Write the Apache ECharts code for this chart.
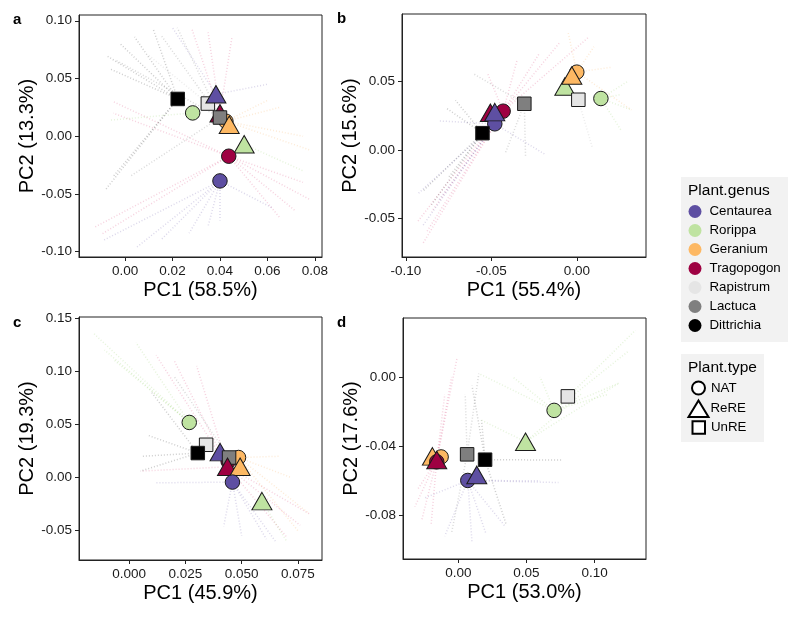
<!DOCTYPE html>
<html><head><meta charset="utf-8">
<script src="https://cdn.jsdelivr.net/npm/echarts@6/dist/echarts.min.js"></script>
<style>html,body{margin:0;padding:0;background:#fff}#c{width:800px;height:617px}</style>
</head><body><div id="c"></div>
<script>
// ---------- data ----------
const genera = ['Centaurea','Rorippa','Geranium','Tragopogon','Rapistrum','Lactuca','Dittrichia'];
const plantTypes = ['NAT','ReRE','UnRE'];
const panelLabels = ['a','b','c','d'];
const xTitles = ['PC1 (58.5%)','PC1 (55.4%)','PC1 (45.9%)','PC1 (53.0%)'];
const yTitles = ['PC2 (13.3%)','PC2 (15.6%)','PC2 (19.3%)','PC2 (17.6%)'];
const xRanges = [[-0.0194,0.083],[-0.1023,0.0405],[-0.0223,0.0857],[-0.0407,0.1378]];
const yRanges = [[-0.1046,0.105],[-0.078,0.0988],[-0.0776,0.151],[-0.1052,0.0341]];
const xTicks = [[0,0.02,0.04,0.06,0.08],[-0.10,-0.05,0],[0,0.025,0.05,0.075],[0,0.05,0.10]];
const yTicks = [[-0.10,-0.05,0,0.05,0.10],[-0.05,0,0.05],[-0.05,0,0.05,0.10,0.15],[-0.08,-0.04,0]];
const xDecimals = [2,2,3,2];
const yDecimals = [2,2,2,2];

// centroids: [genus, type, PC1, PC2] in drawing order
const pointsA = [
  ['Tragopogon','ReRE',0.040,0.0199],
  ['Geranium','NAT',0.0425,0.013],
  ['Lactuca','UnRE',0.040,0.0162],
  ['Geranium','ReRE',0.0439,0.0099],
  ['Rorippa','NAT',0.0285,0.0202],
  ['Rapistrum','UnRE',0.0349,0.0283],
  ['Centaurea','ReRE',0.0383,0.0363],
  ['Dittrichia','UnRE',0.0222,0.0323],
  ['Rorippa','ReRE',0.0502,-0.0069],
  ['Tragopogon','NAT',0.0437,-0.0173],
  ['Centaurea','NAT',0.040,-0.0387]
];
const pointsB = [
  ['Tragopogon','NAT',-0.0431,0.0281],
  ['Tragopogon','ReRE',-0.0506,0.027],
  ['Centaurea','NAT',-0.048,0.0189],
  ['Centaurea','ReRE',-0.048,0.0274],
  ['Dittrichia','UnRE',-0.0552,0.0121],
  ['Lactuca','UnRE',-0.0307,0.0335],
  ['Rorippa','ReRE',-0.007,0.046],
  ['Geranium','NAT',0.000,0.0565],
  ['Geranium','ReRE',-0.0029,0.0541],
  ['Rapistrum','UnRE',0.0009,0.0364],
  ['Rorippa','NAT',0.0141,0.0373]
];
const pointsC = [
  ['Tragopogon','NAT',0.044,0.015],
  ['Rorippa','NAT',0.0267,0.0518],
  ['Rapistrum','UnRE',0.0342,0.0308],
  ['Dittrichia','UnRE',0.0305,0.023],
  ['Centaurea','ReRE',0.0404,0.0239],
  ['Geranium','NAT',0.0486,0.0188],
  ['Lactuca','UnRE',0.0444,0.0188],
  ['Tragopogon','ReRE',0.0437,0.0101],
  ['Geranium','ReRE',0.0493,0.0101],
  ['Centaurea','NAT',0.0459,-0.0043],
  ['Rorippa','ReRE',0.059,-0.0222]
];
const pointsD = [
  ['Geranium','NAT',-0.0127,-0.0462],
  ['Geranium','ReRE',-0.0191,-0.0459],
  ['Tragopogon','NAT',-0.0159,-0.049],
  ['Tragopogon','ReRE',-0.0159,-0.048],
  ['Lactuca','UnRE',0.0064,-0.0447],
  ['Dittrichia','UnRE',0.0196,-0.0478],
  ['Centaurea','NAT',0.0069,-0.0598],
  ['Centaurea','ReRE',0.0135,-0.0566],
  ['Rorippa','ReRE',0.0493,-0.0374],
  ['Rorippa','NAT',0.0703,-0.0193],
  ['Rapistrum','UnRE',0.0804,-0.0112]
];

// faint dotted rays: [genus, type of origin centroid, PC1 end, PC2 end]
const raysA = [
  ['Dittrichia','UnRE',-0.008,0.070],['Dittrichia','UnRE',-0.002,0.080],['Dittrichia','UnRE',0.004,0.086],['Dittrichia','UnRE',0.012,0.092],['Dittrichia','UnRE',-0.006,0.058],
  ['Dittrichia','UnRE',-0.0085,-0.047],['Dittrichia','UnRE',-0.005,-0.035],
  ['Lactuca','UnRE',0.015,0.088],['Lactuca','UnRE',0.022,0.094],['Lactuca','UnRE',-0.004,0.066],['Lactuca','UnRE',0.002,-0.035],
  ['Tragopogon','NAT',-0.005,0.030],['Tragopogon','NAT',-0.005,0.020],['Tragopogon','NAT',-0.013,-0.079],['Tragopogon','NAT',-0.010,-0.085],
  ['Tragopogon','NAT',0.078,-0.055],['Tragopogon','NAT',0.072,-0.065],['Tragopogon','NAT',0.065,-0.070],['Tragopogon','NAT',0.075,-0.040],
  ['Tragopogon','ReRE',0.035,0.090],['Tragopogon','ReRE',0.045,0.085],['Tragopogon','ReRE',0.028,0.094],
  ['Centaurea','NAT',-0.009,-0.090],['Centaurea','NAT',0.005,-0.096],['Centaurea','NAT',0.015,-0.090],['Centaurea','NAT',0.027,-0.084],['Centaurea','NAT',0.035,-0.078],['Centaurea','NAT',0.040,-0.073],['Centaurea','NAT',0.062,-0.062],
  ['Centaurea','ReRE',0.020,0.094],['Centaurea','ReRE',0.060,0.045],
  ['Geranium','NAT',0.078,-0.012],['Geranium','NAT',0.075,0.000],['Geranium','NAT',0.065,0.025],['Geranium','NAT',0.060,0.031],
  ['Rorippa','ReRE',0.075,-0.030],['Rorippa','NAT',-0.006,0.014],['Rapistrum','UnRE',0.010,0.070]
];
const raysB = [
  ['Tragopogon','NAT',-0.090,-0.068],['Tragopogon','NAT',-0.093,-0.052],['Tragopogon','NAT',-0.088,-0.060],['Tragopogon','NAT',-0.085,-0.045],
  ['Tragopogon','NAT',-0.052,0.055],['Tragopogon','NAT',-0.035,0.065],['Tragopogon','NAT',-0.022,0.070],['Tragopogon','NAT',-0.010,0.078],['Tragopogon','NAT',0.007,0.082],
  ['Centaurea','NAT',-0.093,-0.032],['Centaurea','NAT',-0.081,-0.037],['Centaurea','NAT',-0.019,-0.003],['Centaurea','NAT',-0.081,0.021],['Centaurea','NAT',-0.090,-0.055],
  ['Dittrichia','UnRE',-0.085,-0.040],['Dittrichia','UnRE',-0.071,0.036],['Dittrichia','UnRE',-0.076,0.030],['Dittrichia','UnRE',-0.075,-0.020],['Dittrichia','UnRE',-0.090,-0.030],
  ['Lactuca','UnRE',-0.042,-0.003],['Lactuca','UnRE',-0.030,-0.005],['Lactuca','UnRE',-0.060,0.055],
  ['Geranium','NAT',0.020,0.060],['Geranium','NAT',0.010,0.075],['Geranium','NAT',-0.005,0.085],['Geranium','NAT',0.032,0.029],
  ['Rorippa','NAT',0.032,0.029],['Rorippa','NAT',0.026,0.014],['Rorippa','NAT',0.030,0.050],['Rorippa','NAT',0.025,0.040],
  ['Rapistrum','UnRE',0.009,0.002]
];
const raysC = [
  ['Rorippa','NAT',-0.016,0.136],['Rorippa','NAT',-0.011,0.120],['Rorippa','NAT',-0.007,0.111],['Rorippa','NAT',0.003,0.127],
  ['Tragopogon','ReRE',0.012,0.115],['Tragopogon','ReRE',0.030,0.105],['Tragopogon','ReRE',0.020,0.110],
  ['Tragopogon','ReRE',0.070,-0.056],['Tragopogon','ReRE',0.080,-0.034],['Tragopogon','ReRE',0.076,-0.045],['Tragopogon','ReRE',0.005,0.006],
  ['Centaurea','NAT',0.061,-0.058],['Centaurea','NAT',0.065,-0.060],['Centaurea','NAT',0.042,-0.046],['Centaurea','NAT',0.050,-0.055],['Centaurea','NAT',0.012,-0.005],
  ['Dittrichia','UnRE',0.008,0.040],['Dittrichia','UnRE',0.005,0.006],['Dittrichia','UnRE',0.006,0.020],['Dittrichia','UnRE',0.010,0.080],
  ['Geranium','NAT',0.080,-0.034],['Geranium','NAT',0.067,0.020],['Geranium','NAT',0.072,0.000],['Geranium','NAT',0.075,-0.050],
  ['Rorippa','ReRE',0.070,-0.060],['Lactuca','UnRE',0.020,0.095]
];
const raysD = [
  ['Tragopogon','ReRE',-0.001,0.011],['Tragopogon','ReRE',-0.005,0.000],['Tragopogon','ReRE',-0.010,-0.010],
  ['Tragopogon','ReRE',-0.027,-0.083],['Tragopogon','ReRE',-0.032,-0.075],['Tragopogon','ReRE',-0.030,-0.065],['Tragopogon','ReRE',-0.020,-0.085],
  ['Centaurea','NAT',-0.010,-0.092],['Centaurea','NAT',0.010,-0.096],['Centaurea','NAT',0.034,-0.086],['Centaurea','NAT',0.020,-0.090],['Centaurea','NAT',-0.025,-0.070],
  ['Centaurea','NAT',0.0735,-0.061],['Centaurea','NAT',0.060,-0.060],
  ['Dittrichia','UnRE',0.076,-0.048],['Dittrichia','UnRE',0.010,-0.005],['Dittrichia','UnRE',0.017,-0.025],['Dittrichia','UnRE',0.035,-0.085],
  ['Lactuca','UnRE',0.015,0.002],['Lactuca','UnRE',0.005,-0.010],['Lactuca','UnRE',-0.005,-0.090],
  ['Rorippa','NAT',0.130,0.027],['Rorippa','NAT',0.125,0.015],['Rorippa','NAT',0.118,-0.0035],['Rorippa','NAT',0.110,-0.010],
  ['Rorippa','NAT',0.015,0.002],['Rorippa','NAT',0.060,0.000],['Rorippa','NAT',0.040,0.000],
  ['Rorippa','ReRE',0.118,-0.0035],['Rorippa','ReRE',0.017,-0.025],['Rorippa','ReRE',0.090,-0.010]
];
const panelPoints = [pointsA, pointsB, pointsC, pointsD];
const panelRays = [raysA, raysB, raysC, raysD];

// ---------- styles ----------
const genusColors = {
  Centaurea:'#5E4FA2', Rorippa:'#BFE3A1', Geranium:'#FDB863', Tragopogon:'#9E0142',
  Rapistrum:'#E5E5E5', Lactuca:'#7F7F7F', Dittrichia:'#000000'
};
const rayColors = {
  Centaurea:'#5E4FA2', Rorippa:'#8CCB5E', Geranium:'#F6A34B', Tragopogon:'#D6336C',
  Rapistrum:'#AAAAAA', Lactuca:'#555555', Dittrichia:'#222222'
};
const typeSymbols = {NAT:'circle', ReRE:'triangle', UnRE:'rect'};
const typeSizes = {NAT:14.5, ReRE:[20,17.5], UnRE:13.5};
const grids = [
  {left:79, top:15, width:243, height:242},
  {left:402, top:14, width:244, height:243},
  {left:79, top:317, width:243, height:243},
  {left:403, top:318, width:243, height:241}
];
const letterPos = [[13,20],[337,19],[13,323],[337,323]];
const FONT = 'Liberation Sans, Arial, sans-serif';

const xAxes = [], yAxes = [], series = [];
grids.forEach((g, i) => {
  const xd = xDecimals[i], yd = yDecimals[i];
  xAxes.push({
    gridIndex:i, type:'value', min:xRanges[i][0], max:xRanges[i][1],
    name:xTitles[i], nameLocation:'middle', nameGap:23,
    nameTextStyle:{fontSize:20, color:'#000', fontFamily:FONT},
    axisLine:{show:true, onZero:false, lineStyle:{color:'#222', width:1}},
    axisTick:{show:true, inside:false, length:4, customValues:xTicks[i], lineStyle:{color:'#222'}},
    axisLabel:{customValues:xTicks[i], margin:7, fontSize:13.5, color:'#1a1a1a', fontFamily:FONT,
      formatter:v => Number(v).toFixed(xd)},
    splitLine:{show:false}
  });
  yAxes.push({
    gridIndex:i, type:'value', min:yRanges[i][0], max:yRanges[i][1],
    name:yTitles[i], nameLocation:'middle', nameGap:42,
    nameTextStyle:{fontSize:20, color:'#000', fontFamily:FONT},
    axisLine:{show:true, onZero:false, lineStyle:{color:'#222', width:1}},
    axisTick:{show:true, inside:false, length:4, customValues:yTicks[i], lineStyle:{color:'#222'}},
    axisLabel:{customValues:yTicks[i], margin:7, fontSize:13.5, color:'#1a1a1a', fontFamily:FONT,
      formatter:v => Number(v).toFixed(yd)},
    splitLine:{show:false}
  });
  const pts = panelPoints[i];
  const lookup = {};
  pts.forEach(p => { lookup[p[0] + '|' + p[1]] = [p[2], p[3]]; });
  series.push({
    type:'lines', coordinateSystem:'cartesian2d', xAxisIndex:i, yAxisIndex:i,
    silent:true, z:1, animation:false,
    data: panelRays[i].map(r => ({
      coords:[lookup[r[0] + '|' + r[1]], [r[2], r[3]]],
      lineStyle:{color:rayColors[r[0]]}
    })),
    lineStyle:{width:1.5, type:[1,2], opacity:0.22}
  });
  series.push({
    type:'scatter', xAxisIndex:i, yAxisIndex:i, z:3, animation:false,
    emphasis:{disabled:true},
    data: pts.map(p => ({
      value:[p[2], p[3]],
      symbol:typeSymbols[p[1]],
      symbolSize:typeSizes[p[1]],
      itemStyle:{color:genusColors[p[0]], borderColor:'#1a1a1a', borderWidth:1, opacity:1}
    }))
  });
});
// legend-only series
genera.forEach(g => series.push({type:'scatter', name:g, xAxisIndex:0, yAxisIndex:0, data:[],
  itemStyle:{color:genusColors[g], borderWidth:0, opacity:1}}));
plantTypes.forEach(t => series.push({type:'scatter', name:t, xAxisIndex:0, yAxisIndex:0, data:[],
  symbol:typeSymbols[t], itemStyle:{color:'#ffffff', borderColor:'#000', borderWidth:1, opacity:1}}));

const legendText = {fontSize:13.3, color:'#000', fontFamily:FONT, lineHeight:15};
const option = {
  animation:false,
  backgroundColor:'#ffffff',
  grid: grids.map(g => Object.assign({show:true, borderColor:'#222', borderWidth:1, backgroundColor:'#fff'}, g)),
  xAxis:xAxes, yAxis:yAxes, series:series,
  legend:[
    {data:genera, orient:'vertical', left:688.5, top:204, itemWidth:13, itemHeight:13, itemGap:4,
     icon:'circle', selectedMode:false, z:10, padding:0,
     textStyle:Object.assign({padding:[0,0,0,3]}, legendText)},
    {data:[{name:'NAT', icon:'circle'}], left:691, top:380.5, itemWidth:13, itemHeight:13, padding:0,
     selectedMode:false, z:10, textStyle:Object.assign({padding:[0,0,0,1]}, legendText)},
    {data:[{name:'ReRE', icon:'triangle'}], left:687.5, top:399.5, itemWidth:20, itemHeight:16.5, padding:0,
     selectedMode:false, z:10, textStyle:Object.assign({padding:[0,0,0,-3]}, legendText)},
    {data:[{name:'UnRE', icon:'rect'}], left:691.5, top:420, itemWidth:12.5, itemHeight:12.5, padding:0,
     selectedMode:false, z:10, textStyle:Object.assign({padding:[0,0,0,1]}, legendText)}
  ],
  graphic:[
    {type:'rect', shape:{x:681, y:177, width:107, height:165}, style:{fill:'#F2F2F2'}, z:0, silent:true},
    {type:'rect', shape:{x:681, y:354, width:83, height:88}, style:{fill:'#F2F2F2'}, z:0, silent:true},
    {type:'text', x:688, y:191, z:11, style:{text:'Plant.genus', fontSize:15.5, fill:'#000', fontFamily:FONT, verticalAlign:'middle'}},
    {type:'text', x:688, y:368, z:11, style:{text:'Plant.type', fontSize:15.5, fill:'#000', fontFamily:FONT, verticalAlign:'middle'}}
  ].concat(panelLabels.map((l, i) => ({type:'text', x:letterPos[i][0], y:letterPos[i][1], z:11,
    style:{text:l, fontSize:15, fontWeight:'bold', fill:'#000', fontFamily:FONT, verticalAlign:'middle'}})))
};
const chart = echarts.init(document.getElementById('c'), null, {renderer:'canvas'});
chart.setOption(option);
</script></body></html>
